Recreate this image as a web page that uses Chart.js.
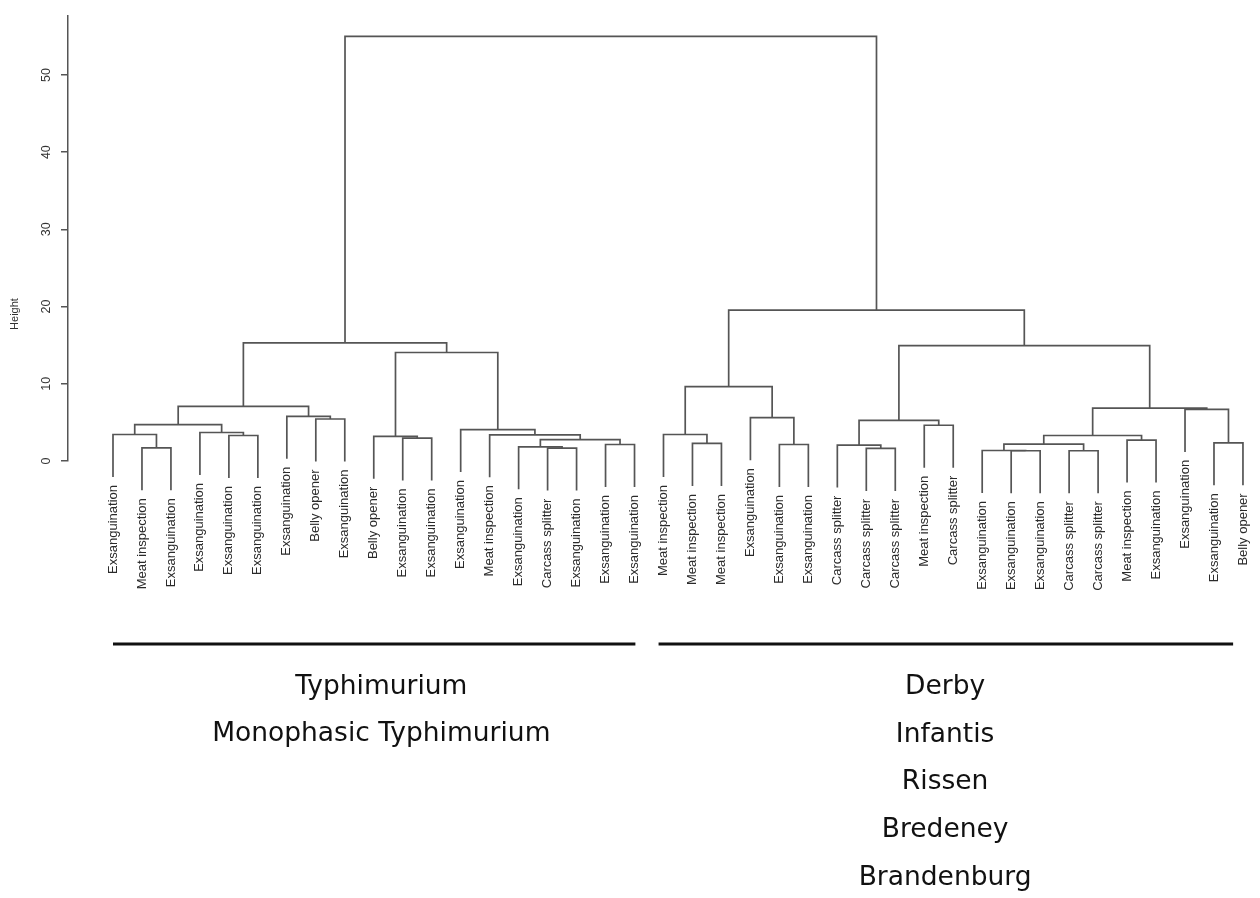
<!DOCTYPE html>
<html>
<head>
<meta charset="utf-8">
<title>Dendrogram</title>
<script src="https://cdn.jsdelivr.net/npm/chart.js@4.4.0/dist/chart.umd.min.js"></script>
<style>
  html, body { margin: 0; padding: 0; background: #fff; }
  #wrap { width: 1260px; height: 898px; position: relative; }
</style>
</head>
<body>
<div id="wrap"><canvas id="tree"></canvas></div>
<script>
// leaves in plotting order, left to right
var leafLabels = [
  'Exsanguination', 'Meat inspection', 'Exsanguination', 'Exsanguination', 'Exsanguination',
  'Exsanguination', 'Exsanguination', 'Belly opener', 'Exsanguination', 'Belly opener',
  'Exsanguination', 'Exsanguination', 'Exsanguination', 'Meat inspection', 'Exsanguination',
  'Carcass splitter', 'Exsanguination', 'Exsanguination', 'Exsanguination', 'Meat inspection',
  'Meat inspection', 'Meat inspection', 'Exsanguination', 'Exsanguination', 'Exsanguination',
  'Carcass splitter', 'Carcass splitter', 'Carcass splitter', 'Meat inspection', 'Carcass splitter',
  'Exsanguination', 'Exsanguination', 'Exsanguination', 'Carcass splitter', 'Carcass splitter',
  'Meat inspection', 'Exsanguination', 'Exsanguination', 'Exsanguination', 'Belly opener'
];

// hclust style merge rows: negative = leaf number, positive = earlier row
var mergeLeft  = [-2, -1, -5, -4, 2, -8, -7, 5, -11, -10, -16, -15, -18, 12, -14, -13, 10, 8,
                  -21, -20, -24, -23, 20, -27, -26, -29, 25, -32, -31, -34, 29, -36, 31, -39, -38, 33, 27, 23, 18];
var mergeRight = [-3, 1, -6, 3, 4, -9, 6, 7, -12, 9, -17, 11, -19, 13, 14, 15, 16, 17,
                  -22, 19, -25, 21, 22, -28, 24, -30, 26, -33, 28, -35, 30, -37, 32, -40, 34, 35, 36, 37, 38];
var mergeHeight = [1.71, 3.43, 3.3, 3.69, 4.7, 5.44, 5.78, 7.07, 2.96, 3.2, 1.67, 1.84, 2.14, 2.77, 3.38, 4.07, 14.05, 15.3,
                   2.27, 3.43, 2.14, 5.61, 9.64, 1.63, 2.06, 4.63, 5.27, 1.33, 1.36, 1.33, 2.18, 2.7, 3.3, 2.35, 6.68, 6.85, 14.95, 19.54, 55.0];

var yTicks = [0, 10, 20, 30, 40, 50];
var leftGroups = ['Typhimurium', 'Monophasic Typhimurium'];
var rightGroups = ['Derby', 'Infantis', 'Rissen', 'Bredeney', 'Brandenburg'];
var hang = 5.5;

var lineColor = '#555555';

// work out the x of each merge (midpoint of its two children) and the segments
var nodeX = [];
var leafEnd = [];
var datasets = [];

function childX(c) {
  return c < 0 ? -c : nodeX[c - 1];
}
function childBottom(c, h) {
  if (c < 0) {
    leafEnd[-c] = h - hang;
    return h - hang;
  }
  return mergeHeight[c - 1];
}

for (var k = 0; k < mergeHeight.length; k++) {
  var h = mergeHeight[k];
  var xl = childX(mergeLeft[k]);
  var xr = childX(mergeRight[k]);
  var bl = childBottom(mergeLeft[k], h);
  var br = childBottom(mergeRight[k], h);
  nodeX.push((xl + xr) / 2);
  datasets.push({
    data: [{x: xl, y: bl}, {x: xl, y: h}, {x: xr, y: h}, {x: xr, y: br}],
    showLine: true,
    borderColor: lineColor,
    borderWidth: 1.7,
    pointRadius: 0,
    pointHoverRadius: 0,
    tension: 0,
    clip: false
  });
}

var labelsPlugin = {
  id: 'treeLabels',
  afterDraw: function(chart) {
    var ctx = chart.ctx;
    var xs = chart.scales.x;
    var ys = chart.scales.y;

    // leaf labels hanging under each leaf
    ctx.save();
    ctx.fillStyle = '#2a2a2a';
    ctx.font = '13px "Liberation Sans", Arial, sans-serif';
    ctx.textAlign = 'right';
    ctx.textBaseline = 'middle';
    for (var i = 0; i < leafLabels.length; i++) {
      var px = xs.getPixelForValue(i + 1);
      var py = ys.getPixelForValue(leafEnd[i + 1]) + 8;
      ctx.save();
      ctx.translate(px, py);
      ctx.rotate(-Math.PI / 2);
      ctx.fillText(leafLabels[i], 0, 0);
      ctx.restore();
    }
    ctx.restore();

    // y axis title
    ctx.save();
    ctx.fillStyle = '#333';
    ctx.font = '11px "Liberation Sans", Arial, sans-serif';
    ctx.textAlign = 'center';
    ctx.textBaseline = 'middle';
    ctx.translate(15, 314);
    ctx.rotate(-Math.PI / 2);
    ctx.fillText('Height', 0, 0);
    ctx.restore();

    // group bars and serotype names
    ctx.save();
    ctx.strokeStyle = '#111';
    ctx.lineWidth = 3;
    ctx.beginPath();
    ctx.moveTo(xs.getPixelForValue(1), 644);
    ctx.lineTo(xs.getPixelForValue(19.03), 644);
    ctx.moveTo(xs.getPixelForValue(19.83), 644);
    ctx.lineTo(xs.getPixelForValue(39.66), 644);
    ctx.stroke();

    ctx.fillStyle = '#111';
    ctx.font = '26.5px "DejaVu Sans", Verdana, sans-serif';
    ctx.textAlign = 'center';
    ctx.textBaseline = 'middle';
    var lx = xs.getPixelForValue(10.26);
    var rx = xs.getPixelForValue(29.72);
    leftGroups.forEach(function(name, j) {
      ctx.fillText(name, lx, 687 + j * 47);
    });
    rightGroups.forEach(function(name, j) {
      ctx.fillText(name, rx, 687 + j * 47.8);
    });
    ctx.restore();
  }
};

new Chart(document.getElementById('tree'), {
  type: 'scatter',
  data: { datasets: datasets },
  options: {
    responsive: true,
    maintainAspectRatio: false,
    animation: false,
    events: [],
    layout: { padding: { top: 12, bottom: 437, left: 0, right: 4 } },
    plugins: {
      legend: { display: false },
      tooltip: { enabled: false },
      title: { display: false }
    },
    scales: {
      x: { type: 'linear', min: -0.553, max: 40.45, display: false },
      y: {
        type: 'linear',
        position: 'left',
        min: 0,
        max: 57.7,
        afterFit: function(scale) { scale.width = 68; },
        afterBuildTicks: function(scale) {
          scale.ticks = yTicks.map(function(v) { return {value: v}; });
        },
        border: { display: true, color: lineColor, width: 1.5 },
        grid: { drawOnChartArea: false, drawTicks: true, tickLength: 7, color: lineColor, lineWidth: 1.5 },
        ticks: {
          minRotation: 90,
          maxRotation: 90,
          crossAlign: 'center',
          padding: 8,
          color: '#333',
          font: { family: '"Liberation Sans", Arial, sans-serif', size: 12.5 }
        }
      }
    }
  },
  plugins: [labelsPlugin]
});
</script>
</body>
</html>
